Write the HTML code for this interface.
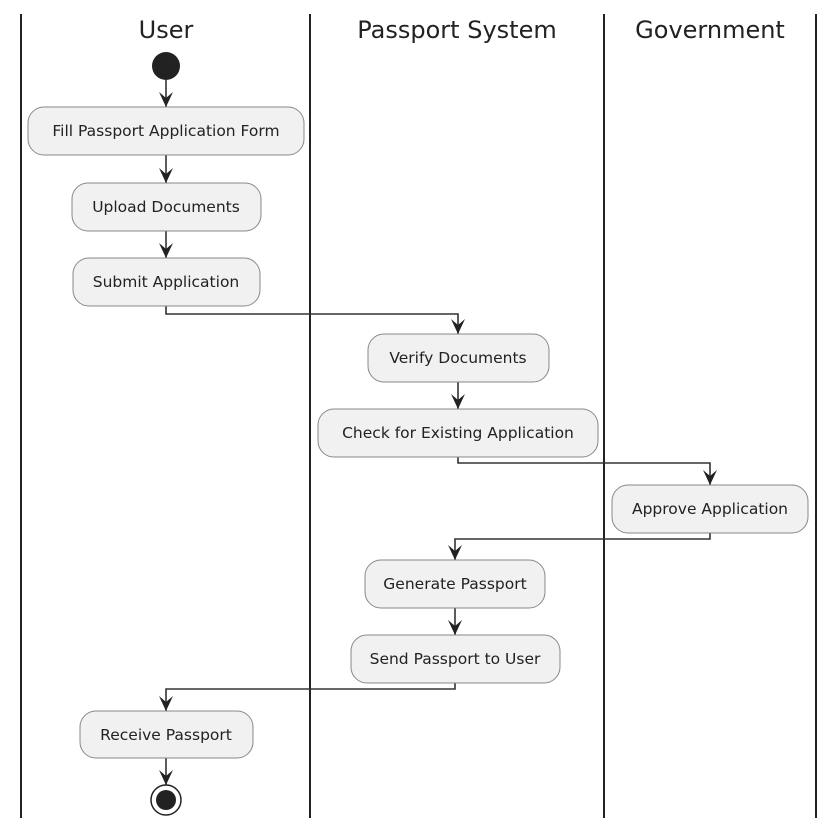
<!DOCTYPE html>
<html><head><meta charset="utf-8"><style>
html,body{margin:0;padding:0;background:#fff;}
svg{display:block;}
text{font-family:"DejaVu Sans","Liberation Sans",sans-serif;fill:#222;}
.n{fill:#f1f1f1;stroke:#888;stroke-width:1;}
.l{stroke:#333;stroke-width:1.6;fill:none;}
.t{font-size:15.5px;text-anchor:middle;dominant-baseline:central;}
.h{font-size:24px;text-anchor:middle;}
</style></head><body>
<svg width="834" height="830" viewBox="0 0 834 830" xmlns="http://www.w3.org/2000/svg">
<g stroke="#222" stroke-width="2">
<line x1="21" y1="14" x2="21" y2="818"/>
<line x1="310" y1="14" x2="310" y2="818"/>
<line x1="604" y1="14" x2="604" y2="818"/>
<line x1="816" y1="14" x2="816" y2="818"/>
</g>
<text class="h" x="166" y="38">User</text>
<text class="h" x="457" y="38">Passport System</text>
<text class="h" x="710" y="38">Government</text>

<circle cx="166" cy="66" r="14" fill="#222"/>

<g class="l">
<path d="M166 80V107"/>
<path d="M166 155V183"/>
<path d="M166 231V258"/>
<path d="M166 306V314H458V334"/>
<path d="M458 382V409"/>
<path d="M458 457V463H710V485"/>
<path d="M710 533V539H455V560"/>
<path d="M455 608V635"/>
<path d="M455 683V689H166V711"/>
<path d="M166 758V785"/>
</g>
<g fill="#222">
<path d="M159 92L166 107L173 92L166 98Z"/>
<path d="M159 168L166 183L173 168L166 174Z"/>
<path d="M159 243L166 258L173 243L166 249Z"/>
<path d="M451 319L458 334L465 319L458 325Z"/>
<path d="M451 394L458 409L465 394L458 400Z"/>
<path d="M703 470L710 485L717 470L710 476Z"/>
<path d="M448 545L455 560L462 545L455 551Z"/>
<path d="M448 620L455 635L462 620L455 626Z"/>
<path d="M159 696L166 711L173 696L166 702Z"/>
<path d="M159 770L166 785L173 770L166 776Z"/>
</g>

<rect class="n" x="28" y="107" width="276" height="48" rx="16"/>
<text class="t" x="166" y="131">Fill Passport Application Form</text>
<rect class="n" x="72" y="183" width="189" height="48" rx="16"/>
<text class="t" x="166" y="207">Upload Documents</text>
<rect class="n" x="73" y="258" width="187" height="48" rx="16"/>
<text class="t" x="166" y="282">Submit Application</text>
<rect class="n" x="368" y="334" width="181" height="48" rx="16"/>
<text class="t" x="458" y="358">Verify Documents</text>
<rect class="n" x="318" y="409" width="280" height="48" rx="16"/>
<text class="t" x="458" y="433">Check for Existing Application</text>
<rect class="n" x="612" y="485" width="196" height="48" rx="16"/>
<text class="t" x="710" y="509">Approve Application</text>
<rect class="n" x="365" y="560" width="180" height="48" rx="16"/>
<text class="t" x="455" y="584">Generate Passport</text>
<rect class="n" x="351" y="635" width="209" height="48" rx="16"/>
<text class="t" x="455" y="659">Send Passport to User</text>
<rect class="n" x="80" y="711" width="173" height="47" rx="16"/>
<text class="t" x="166" y="735">Receive Passport</text>

<circle cx="166" cy="800" r="15" fill="#fff" stroke="#222" stroke-width="1.5"/>
<circle cx="166" cy="800" r="10" fill="#222"/>
</svg>
</body></html>
